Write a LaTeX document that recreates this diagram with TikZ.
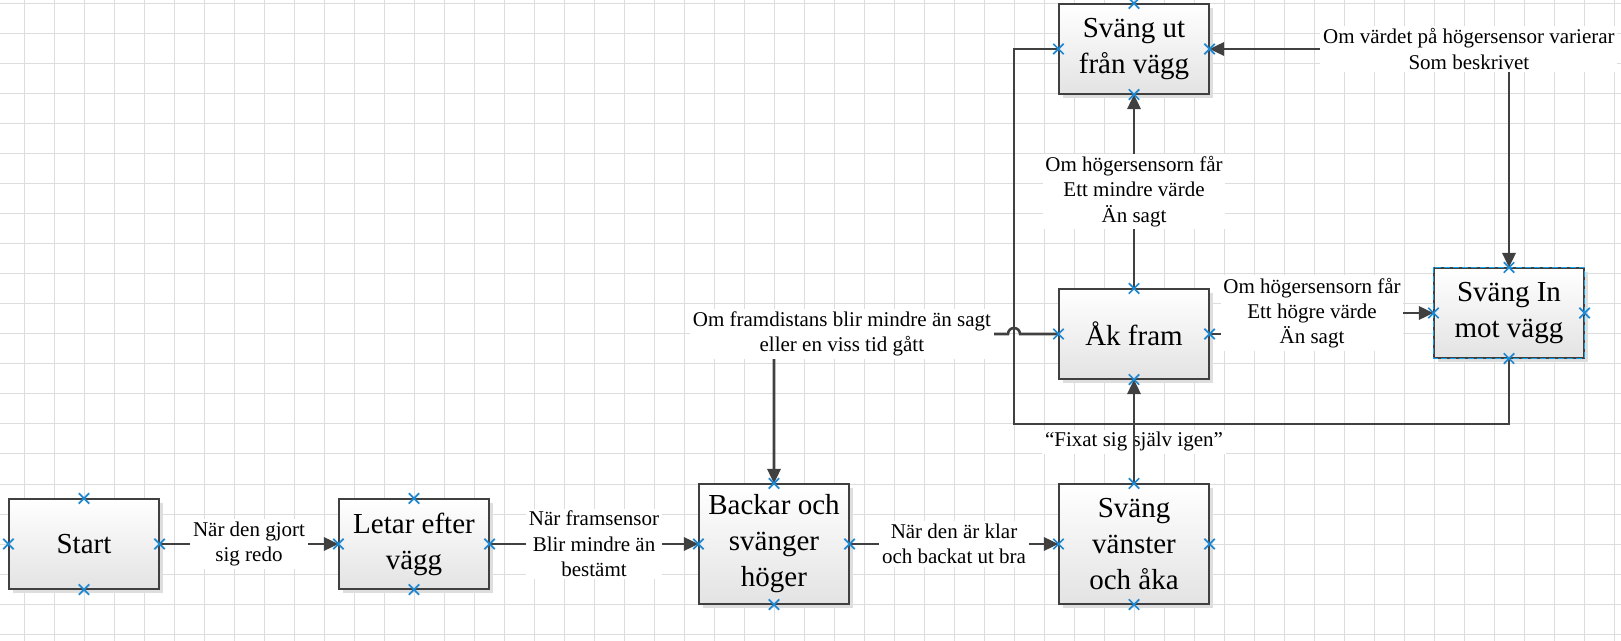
\documentclass[tikz,border=0pt]{standalone}
\usepackage{fontspec}
\setmainfont{Liberation Serif}
\usepackage{xcolor}
\usepackage{tikz}
\usetikzlibrary{shapes,arrows,arrows.meta,positioning,calc,shadows,backgrounds}

\definecolor{linegray}{RGB}{64,64,64}
\definecolor{gridgray}{RGB}{221,221,221}
\definecolor{cptblue}{RGB}{30,136,210}
\definecolor{selblue}{RGB}{20,160,230}

\begin{document}
\begin{tikzpicture}[x=0.75pt, y=-0.75pt,
    >={Triangle[length=11pt, width=10pt]},
    state/.style={draw=linegray, line width=0.8pt, top color=white, bottom color=black!11,
        minimum width=112.5pt, minimum height=67.5pt, inner sep=0pt, align=center,
        font=\fontsize{21.75}{27}\selectfont,
        drop shadow={shadow xshift=3pt, shadow yshift=-3pt, fill=black!13, opacity=1}},
    tall/.style={state, minimum height=90pt},
    conn/.style={draw=linegray, line width=1.9pt, ->},
    lbl/.style={fill=white, inner sep=2pt, align=center, font=\fontsize{15.75}{19}\selectfont},
    selbox/.style={selblue, line width=0.9pt, dash pattern=on 4.5pt off 2.25pt},
    cpt/.style={cross out, draw=cptblue, line width=1.3pt, minimum size=6.5pt, inner sep=0pt},
    gridline/.style={gridgray, line width=0.75pt}]

    % page and grid
    \useasboundingbox (0,0) rectangle (1621,641);
    \fill[white] (0,0) rectangle (1621,641);
    \foreach \x in {24,54,...,1614} \draw[gridline] (\x,0) -- (\x,641);
    \foreach \y in {4,34,...,634} \draw[gridline] (0,\y) -- (1621,\y);

    % states
    \node[state] (start) at (84,544) {Start};
    \node[state] (letar) at (414,544) {Letar efter\\vägg};
    \node[tall] (backar) at (774,544) {Backar och\\svänger\\höger};
    \node[tall] (vanster) at (1134,544) {Sväng\\vänster\\och åka};
    \node[state] (akfram) at (1134,334) {Åk fram};
    \node[state] (svangut) at (1134,49) {Sväng ut\\från vägg};
    \node[state] (svangin) at (1509,313) {Sväng In\\mot vägg};
    \draw[selbox] (svangin.north west) rectangle (svangin.south east);

    % bottom row
    \draw[conn] (start) -- node[lbl] {När den gjort\\sig redo} (letar);
    \draw[conn] (letar) -- node[lbl] {När framsensor\\Blir mindre än\\bestämt} (backar);
    \draw[conn] (backar) -- node[lbl] {När den är klar\\och backat ut bra} (vanster);

    % up the middle
    \path (vanster) -- node[lbl, pos=0.4] (fixat) {“Fixat sig själv igen”} (akfram);
    \draw[conn] (vanster) -- (akfram);
    \draw[conn] (akfram) -- node[lbl] {Om högersensorn får\\Ett mindre värde\\Än sagt} (svangut);

    % right side
    \draw[conn] (akfram.east) -- (1312,334) |- node[lbl] {Om högersensorn får\\Ett högre värde\\Än sagt} (svangin.west);
    \draw[conn, <->] (svangut.east) -| node[lbl, pos=0.433] {Om värdet på högersensor varierar\\Som beskrivet} (svangin.north);

    % back to backar, hop over the return line
    \draw[conn] (akfram.west) -- (1020,334) arc[start angle=0, end angle=-180, radius=6]
        -| node[lbl, pos=0.355] {Om framdistans blir mindre än sagt\\eller en viss tid gått} (backar.north);
    \draw[conn, -] (svangin.south) |- (1014,424) |- (svangut.west);

    % connection points
    \foreach \n in {start,letar,backar,vanster,akfram,svangut,svangin} {
        \foreach \a in {north,south,east,west} {
            \node[cpt] (\n-\a) at (\n.\a) {};
        }
    }
\end{tikzpicture}
\end{document}
